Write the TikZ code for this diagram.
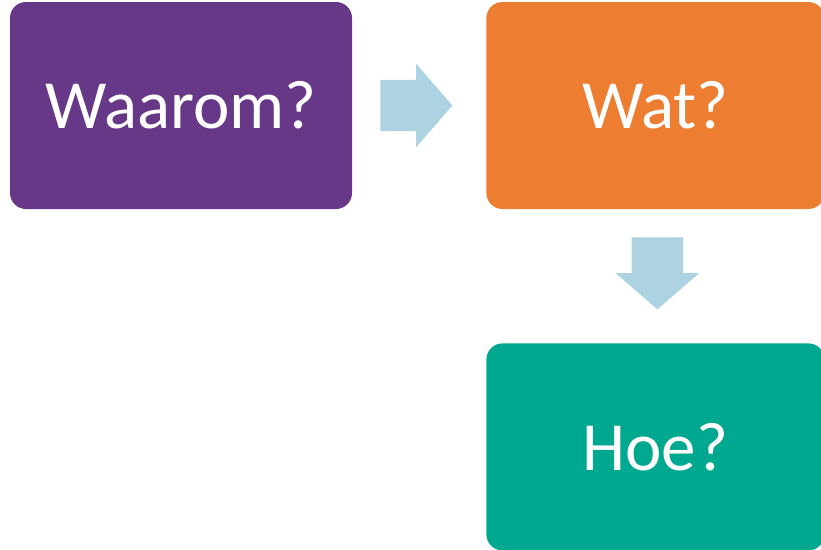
\documentclass[tikz,border=0pt]{standalone}
\usepackage{fontspec}
\setmainfont{Carlito}
\usetikzlibrary{positioning}
\usetikzlibrary{calc}
\usetikzlibrary{shapes.arrows}

\definecolor{whypurple}{RGB}{102,56,135}
\definecolor{whatorange}{RGB}{237,125,49}
\definecolor{howgreen}{RGB}{0,168,143}
\definecolor{arrowblue}{RGB}{173,211,226}

\begin{document}
\begin{tikzpicture}[x=1pt,y=1pt]
  \tikzset{node distance=134pt,
           stepbox/.style={minimum width=#1,minimum height=207pt,rounded corners=16pt,
                           text=white,font=\fontsize{69}{80}\selectfont,inner sep=0pt},
           whybox/.style={stepbox=342pt,fill=whypurple},
           whatbox/.style={stepbox=338pt,fill=whatorange},
           howbox/.style={stepbox=338pt,fill=howgreen},
           flow/.style={single arrow,fill=arrowblue,minimum height=72pt,inner xsep=0pt,
                        inner ysep=25.5pt,single arrow head extend=16pt,single arrow tip angle=98,
                        anchor=tail}}
  \useasboundingbox (0,0) rectangle (821,-549);

  \node[whybox] (waarom) at (181,-105.5) {Waarom?};
  \node[whatbox,anchor=west] (wat) at ($(waarom.east)+(134,0)$) {Wat?};
  \node[howbox,below=of wat] (hoe) {Hoe?};

  \node[flow] (toWat) at ($(waarom.east)+(28,0)$) {};
  \node[flow,rotate=-90] (toHoe) at ($(wat.south)+(2,-28)$) {};
\end{tikzpicture}
\end{document}
